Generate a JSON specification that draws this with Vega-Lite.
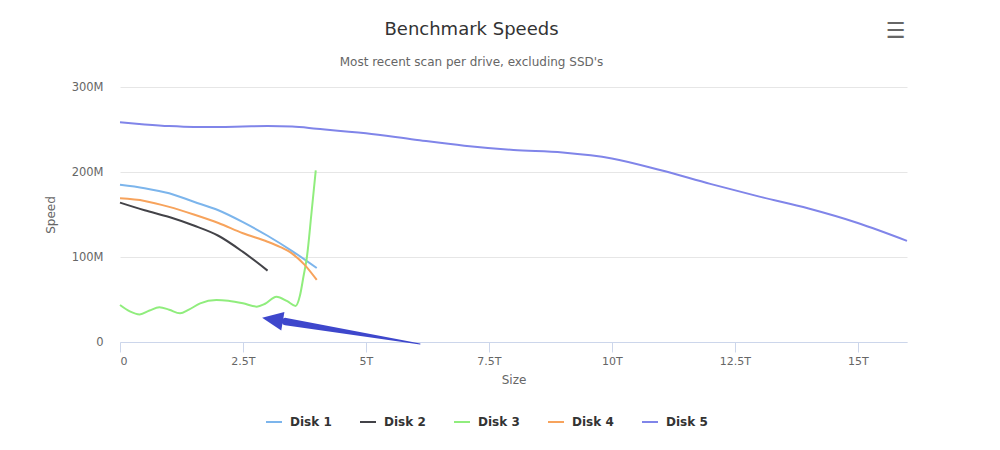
{
  "$schema": "https://vega.github.io/schema/vega-lite/v6.json",
  "width": 787,
  "height": 255,
  "autosize": {"type": "none"},
  "padding": {"left": 120, "top": 87, "right": 93, "bottom": 108},
  "background": "#ffffff",
  "config": {
    "font": "DejaVu Sans",
    "view": {"stroke": null},
    "axisX": {
      "domainColor": "#ccd6eb",
      "tickColor": "#ccd6eb",
      "tickSize": 10,
      "labelColor": "#666666",
      "labelFontSize": 11,
      "labelPadding": 3,
      "titleColor": "#666666",
      "titleFontSize": 12,
      "titleFontWeight": "normal",
      "titlePadding": 8,
      "grid": false
    },
    "axisY": {
      "domain": false,
      "ticks": false,
      "tickSize": 0,
      "grid": true,
      "gridColor": "#e6e6e6",
      "labelColor": "#666666",
      "labelFontSize": 11.5,
      "labelPadding": 17,
      "titleColor": "#666666",
      "titleFontSize": 12,
      "titleFontWeight": "normal",
      "titlePadding": 14
    },
    "legend": {
      "orient": "none",
      "legendX": 145,
      "legendY": 326,
      "direction": "horizontal",
      "title": null,
      "symbolType": "stroke",
      "symbolSize": 256,
      "symbolStrokeWidth": 2,
      "labelFontSize": 12,
      "labelFontWeight": "bold",
      "labelColor": "#333333",
      "labelOffset": 7,
      "columnPadding": 24
    }
  },
  "title": {
    "text": "Benchmark Speeds",
    "subtitle": "Most recent scan per drive, excluding SSD's",
    "anchor": "middle",
    "frame": "group",
    "dx": -42,
    "dy": 62,
    "fontSize": 18,
    "fontWeight": "normal",
    "color": "#333333",
    "subtitleFontSize": 12,
    "subtitleColor": "#666666",
    "subtitlePadding": 18,
    "offset": 14
  },
  "datasets": {
    "disks": [
      {"series": "Disk 1", "size": 0, "speed": 185},
      {"series": "Disk 1", "size": 0.5, "speed": 181},
      {"series": "Disk 1", "size": 1, "speed": 175},
      {"series": "Disk 1", "size": 1.5, "speed": 165},
      {"series": "Disk 1", "size": 2, "speed": 155},
      {"series": "Disk 1", "size": 2.5, "speed": 141},
      {"series": "Disk 1", "size": 3, "speed": 125},
      {"series": "Disk 1", "size": 3.5, "speed": 107},
      {"series": "Disk 1", "size": 4, "speed": 87},

      {"series": "Disk 2", "size": 0, "speed": 164},
      {"series": "Disk 2", "size": 0.5, "speed": 155},
      {"series": "Disk 2", "size": 1, "speed": 147},
      {"series": "Disk 2", "size": 1.5, "speed": 137},
      {"series": "Disk 2", "size": 2, "speed": 125},
      {"series": "Disk 2", "size": 2.5, "speed": 106},
      {"series": "Disk 2", "size": 3, "speed": 84},

      {"series": "Disk 3", "size": 0, "speed": 43.5},
      {"series": "Disk 3", "size": 0.2, "speed": 36},
      {"series": "Disk 3", "size": 0.4, "speed": 32.5},
      {"series": "Disk 3", "size": 0.6, "speed": 37},
      {"series": "Disk 3", "size": 0.8, "speed": 40.8},
      {"series": "Disk 3", "size": 1.0, "speed": 38},
      {"series": "Disk 3", "size": 1.22, "speed": 33.7},
      {"series": "Disk 3", "size": 1.4, "speed": 38},
      {"series": "Disk 3", "size": 1.63, "speed": 45.5},
      {"series": "Disk 3", "size": 1.96, "speed": 49.4},
      {"series": "Disk 3", "size": 2.2, "speed": 48.5},
      {"series": "Disk 3", "size": 2.5, "speed": 45.5},
      {"series": "Disk 3", "size": 2.78, "speed": 41.6},
      {"series": "Disk 3", "size": 2.95, "speed": 45},
      {"series": "Disk 3", "size": 3.18, "speed": 53.3},
      {"series": "Disk 3", "size": 3.4, "speed": 48},
      {"series": "Disk 3", "size": 3.57, "speed": 42.4},
      {"series": "Disk 3", "size": 3.66, "speed": 55},
      {"series": "Disk 3", "size": 3.73, "speed": 77},
      {"series": "Disk 3", "size": 3.8, "speed": 100},
      {"series": "Disk 3", "size": 3.89, "speed": 150},
      {"series": "Disk 3", "size": 3.98, "speed": 202},

      {"series": "Disk 4", "size": 0, "speed": 169},
      {"series": "Disk 4", "size": 0.5, "speed": 166},
      {"series": "Disk 4", "size": 1, "speed": 159},
      {"series": "Disk 4", "size": 1.5, "speed": 150},
      {"series": "Disk 4", "size": 2, "speed": 140},
      {"series": "Disk 4", "size": 2.5, "speed": 128},
      {"series": "Disk 4", "size": 3, "speed": 118},
      {"series": "Disk 4", "size": 3.25, "speed": 112},
      {"series": "Disk 4", "size": 3.5, "speed": 104},
      {"series": "Disk 4", "size": 3.75, "speed": 91},
      {"series": "Disk 4", "size": 4, "speed": 73},

      {"series": "Disk 5", "size": 0, "speed": 258.5},
      {"series": "Disk 5", "size": 0.5, "speed": 256},
      {"series": "Disk 5", "size": 1, "speed": 254},
      {"series": "Disk 5", "size": 1.5, "speed": 253},
      {"series": "Disk 5", "size": 2, "speed": 253},
      {"series": "Disk 5", "size": 2.5, "speed": 253.5},
      {"series": "Disk 5", "size": 3, "speed": 254},
      {"series": "Disk 5", "size": 3.5, "speed": 253.5},
      {"series": "Disk 5", "size": 4, "speed": 251},
      {"series": "Disk 5", "size": 5, "speed": 245.5},
      {"series": "Disk 5", "size": 6, "speed": 238},
      {"series": "Disk 5", "size": 7, "speed": 231},
      {"series": "Disk 5", "size": 8, "speed": 226},
      {"series": "Disk 5", "size": 9, "speed": 223},
      {"series": "Disk 5", "size": 10, "speed": 216},
      {"series": "Disk 5", "size": 11, "speed": 202},
      {"series": "Disk 5", "size": 12, "speed": 186},
      {"series": "Disk 5", "size": 13, "speed": 171},
      {"series": "Disk 5", "size": 14, "speed": 157},
      {"series": "Disk 5", "size": 15, "speed": 140},
      {"series": "Disk 5", "size": 16, "speed": 119}
    ],
    "arrowShaft": [
      {"size": 6.1, "speed": -2.35, "end": "tail"},
      {"size": 3.37, "speed": 24.0, "end": "head"}
    ],
    "arrowHead": [
      {"size": 3.1, "speed": 26.5}
    ]
  },
  "layer": [
    {
      "data": {"name": "disks"},
      "mark": {"type": "line", "strokeWidth": 2, "interpolate": "monotone"},
      "encoding": {
        "x": {
          "field": "size",
          "type": "quantitative",
          "title": "Size",
          "scale": {"domain": [0, 16], "nice": false, "zero": false},
          "axis": {
            "values": [0, 2.5, 5, 7.5, 10, 12.5, 15],
            "labelExpr": "datum.value == 0 ? '0' : datum.value + 'T'"
          }
        },
        "y": {
          "field": "speed",
          "type": "quantitative",
          "title": "Speed",
          "scale": {"domain": [0, 300], "nice": false},
          "axis": {
            "values": [0, 100, 200, 300],
            "labelExpr": "datum.value == 0 ? '0' : datum.value + 'M'"
          }
        },
        "color": {
          "field": "series",
          "type": "nominal",
          "scale": {
            "domain": ["Disk 1", "Disk 2", "Disk 3", "Disk 4", "Disk 5"],
            "range": ["#7cb5ec", "#434348", "#90ed7d", "#f7a35c", "#8085e9"]
          }
        }
      }
    },
    {
      "data": {"name": "arrowShaft"},
      "mark": {"type": "trail", "color": "#3e47cc"},
      "encoding": {
        "x": {"field": "size", "type": "quantitative"},
        "y": {"field": "speed", "type": "quantitative"},
        "size": {
          "field": "end",
          "type": "ordinal",
          "scale": {"domain": ["tail", "head"], "range": [1, 7.5]},
          "legend": null
        }
      }
    },
    {
      "data": {"name": "arrowHead"},
      "mark": {
        "type": "point",
        "shape": "M-1,0L1,-0.9L1,0.9Z",
        "size": 441,
        "angle": 9.5,
        "filled": true,
        "opacity": 1,
        "color": "#3e47cc"
      },
      "encoding": {
        "x": {"field": "size", "type": "quantitative"},
        "y": {"field": "speed", "type": "quantitative"}
      }
    },
    {
      "data": {"values": [{"icon": "☰"}]},
      "mark": {"type": "text", "fontSize": 22, "fontWeight": "bold", "color": "#666666", "align": "center", "baseline": "middle"},
      "encoding": {
        "x": {"datum": 15.77, "type": "quantitative"},
        "y": {"datum": 366, "type": "quantitative"},
        "text": {"field": "icon"}
      }
    }
  ]
}
